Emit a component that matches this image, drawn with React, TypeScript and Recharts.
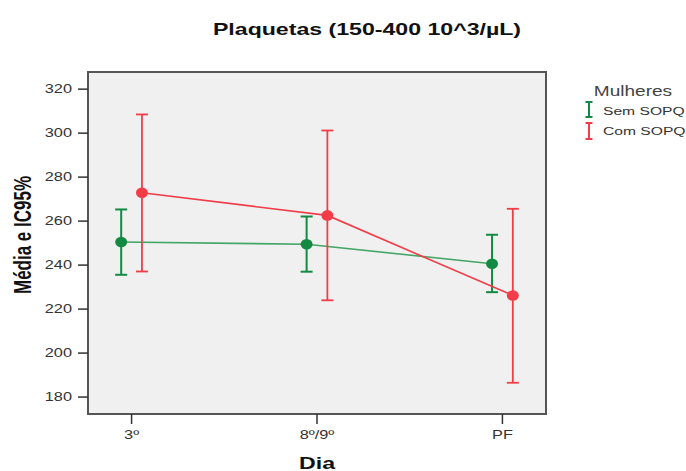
import React from 'react';
import {
  ComposedChart,
  Line,
  ErrorBar,
  XAxis,
  YAxis,
  ReferenceArea,
} from 'recharts';

// Platelet counts: mean and 95% CI per day, by group
const days = ['3º', '8º/9º', 'PF'];
const semMean = [250.5, 249.5, 240.6];
const semLow = [235.6, 237.0, 227.7];
const semHigh = [265.3, 262.1, 253.8];
const comMean = [272.9, 262.6, 226.2];
const comLow = [237.1, 224.0, 186.5];
const comHigh = [308.5, 301.2, 265.6];
const yTicks = [180, 200, 220, 240, 260, 280, 300, 320];

const GREEN = '#138a41';
const GREEN_LINE = '#43a566';
const RED = '#f23c47';
const FONT = "'Liberation Sans', Arial, sans-serif";
const SX = 1.36; // glyphs are drawn wide
const X_DOMAIN: [number, number] = [-0.235, 2.235];
const Y_DOMAIN: [number, number] = [172.3, 327.8];
const SHIFT = 0.056; // side-by-side offset of the two groups

const build = (mean: number[], low: number[], high: number[], dx: number) =>
  days.map((_, i) => ({
    x: i + dx,
    mean: mean[i],
    err: [mean[i] - low[i], high[i] - mean[i]],
  }));

const semData = build(semMean, semLow, semHigh, -SHIFT);
const comData = build(comMean, comLow, comHigh, SHIFT);

const WideText = ({ x, y, size, bold, anchor = 'start', fill = '#333', rotate, children }: any) => (
  <text
    transform={`translate(${x},${y}) scale(${SX},1)${rotate ? ` rotate(${rotate})` : ''}`}
    textAnchor={anchor}
    fontSize={size}
    fontWeight={bold ? 'bold' : 'normal'}
    fontFamily={FONT}
    fill={fill}
  >
    {children}
  </text>
);

const YTick = ({ x, y, payload }: any) => (
  <WideText x={x} y={y + 4.3} size={12} anchor="end">
    {payload.value}
  </WideText>
);

const XTick = ({ x, y, payload }: any) => (
  <WideText x={x} y={y + 9} size={12} anchor="middle">
    {days[payload.value]}
  </WideText>
);

const Dot = (color: string) => (props: any) => {
  const { cx, cy, index } = props;
  return <ellipse key={`d-${index}`} cx={cx} cy={cy} rx={6} ry={5.3} fill={color} />;
};

const BarGlyph = ({ x, y1, y2, color }: any) => (
  <g stroke={color} strokeWidth={2}>
    <line x1={x} x2={x} y1={y1} y2={y2} />
    <line x1={x - 3.5} x2={x + 3.5} y1={y1} y2={y1} />
    <line x1={x - 3.5} x2={x + 3.5} y1={y2} y2={y2} />
  </g>
);

// title and group key, drawn over the chart
const Overlay = () => (
  <svg width={686} height={160} style={{ position: 'absolute', left: 0, top: 0, overflow: 'visible' }}>
    <WideText x={367} y={35} size={17} bold anchor="middle" fill="#111">
      Plaquetas (150-400 10^3/µL)
    </WideText>
    <g transform="translate(580,76)">
      <WideText x={53} y={20} size={14} anchor="middle" fill="#444">
        Mulheres
      </WideText>
      <BarGlyph x={9} y1={26} y2={41} color={GREEN} />
      <WideText x={23} y={39} size={11.5}>Sem SOPQ</WideText>
      <BarGlyph x={9} y1={47} y2={63} color={RED} />
      <WideText x={23} y={58.5} size={11.5}>Com SOPQ</WideText>
    </g>
  </svg>
);

export default function App() {
  return (
    <div style={{ position: 'relative', width: 686, height: 471, background: '#fff' }}>
      <style>{'body{margin:0}'}</style>
      <ComposedChart
        width={686}
        height={471}
        margin={{ top: 72, right: 140, bottom: 0, left: 0 }}
        style={{ position: 'absolute', left: 0, top: 0 }}
      >
        <XAxis
          type="number"
          dataKey="x"
          domain={X_DOMAIN}
          ticks={[0, 1, 2]}
          allowDataOverflow
          height={57}
          axisLine={false}
          tickLine={{ stroke: '#333', strokeWidth: 1.5 }}
          tickSize={10}
          tickMargin={6}
          tick={<XTick />}
          label={{
            content: ({ viewBox }: any) => (
              <WideText x={viewBox.x + viewBox.width / 2} y={viewBox.y + 55} size={17} bold anchor="middle" fill="#111">
                Dia
              </WideText>
            ),
          }}
        />
        <YAxis
          type="number"
          domain={Y_DOMAIN}
          ticks={yTicks}
          allowDataOverflow
          width={88}
          axisLine={false}
          tickLine={{ stroke: '#333', strokeWidth: 1.5 }}
          tickSize={10}
          tickMargin={6}
          tick={<YTick />}
          label={{
            content: ({ viewBox }: any) => (
              <WideText
                x={viewBox.x + 31}
                y={viewBox.y + viewBox.height / 2 - 8}
                size={17}
                bold
                anchor="middle"
                fill="#111"
                rotate={-90}
              >
                Média e IC95%
              </WideText>
            ),
          }}
        />
        <ReferenceArea
          x1={X_DOMAIN[0]}
          x2={X_DOMAIN[1]}
          y1={Y_DOMAIN[0]}
          y2={Y_DOMAIN[1]}
          fill="#f0f0f0"
          fillOpacity={1}
          stroke="#555"
          strokeWidth={2}
          ifOverflow="visible"
        />
        <Line
          data={semData}
          dataKey="mean"
          name="Sem SOPQ"
          type="linear"
          stroke={GREEN_LINE}
          strokeWidth={1.6}
          dot={Dot(GREEN)}
          activeDot={false}
          isAnimationActive={false}
        >
          <ErrorBar dataKey="err" direction="y" width={6} stroke={GREEN} strokeWidth={2} isAnimationActive={false} />
        </Line>
        <Line
          data={comData}
          dataKey="mean"
          name="Com SOPQ"
          type="linear"
          stroke={RED}
          strokeWidth={1.6}
          dot={Dot(RED)}
          activeDot={false}
          isAnimationActive={false}
        >
          <ErrorBar dataKey="err" direction="y" width={6} stroke={RED} strokeWidth={1.8} isAnimationActive={false} />
        </Line>
      </ComposedChart>
      <Overlay />
    </div>
  );
}
